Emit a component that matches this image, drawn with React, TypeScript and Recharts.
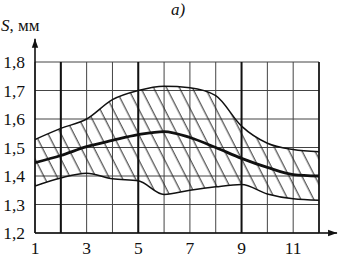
import React from 'react';
import { ComposedChart, Area, Line, XAxis, YAxis, CartesianGrid, ReferenceLine } from 'recharts';

// month index along the x axis
const months = [1, 2, 3, 4, 5, 6, 7, 8, 9, 10, 11, 12];
// S, mm: upper bound, mean, lower bound
const upper = [1.528, 1.567, 1.6, 1.668, 1.7, 1.715, 1.71, 1.682, 1.575, 1.515, 1.493, 1.485];
const mean = [1.447, 1.472, 1.503, 1.525, 1.545, 1.556, 1.535, 1.5, 1.462, 1.43, 1.405, 1.4];
const lower = [1.365, 1.393, 1.41, 1.39, 1.383, 1.335, 1.35, 1.362, 1.37, 1.337, 1.32, 1.315];
const yTicks = [1.2, 1.3, 1.4, 1.5, 1.6, 1.7, 1.8];
const boldLines = [2, 5, 9];

const data = months.map((x, i) => ({
    x,
    upper: upper[i],
    mean: mean[i],
    lower: lower[i],
    range: [lower[i], upper[i]],
}));

const font = '"Liberation Serif", "Times New Roman", serif';

// axis line with arrow head at its end
const Arrow = (p: any) => {
    const { x1, y1, x2, y2 } = p;
    const a = Math.atan2(y2 - y1, x2 - x1);
    const L = 9;
    const W = 3.2;
    const bx = x2 - L * Math.cos(a);
    const by = y2 - L * Math.sin(a);
    const pts = [
        `${x2},${y2}`,
        `${bx - W * Math.sin(a)},${by + W * Math.cos(a)}`,
        `${bx + W * Math.sin(a)},${by - W * Math.cos(a)}`,
    ].join(' ');
    return (
        <g>
            <line x1={x1} y1={y1} x2={x2} y2={y2} stroke="#111" strokeWidth={1.6} />
            <polygon points={pts} fill="#111" />
        </g>
    );
};

export default function App() {
    return (
        <div style={{ position: 'absolute', left: 0, top: 0, width: 338, height: 258, background: '#fff', fontFamily: font, overflow: 'hidden' }}>
            <svg width={0} height={0} style={{ position: 'absolute' }}>
                <defs>
                    <pattern id="hatch" patternUnits="userSpaceOnUse" width={11.5} height={11.5} patternTransform="rotate(-27)">
                        <line x1={5} y1={0} x2={5} y2={11.5} stroke="#222" strokeWidth={1} />
                    </pattern>
                </defs>
            </svg>
            <div style={{ position: 'absolute', left: 171, top: 1, fontSize: 17, lineHeight: '17px', fontStyle: 'italic', color: '#111' }}>a)</div>
            <div style={{ position: 'absolute', left: 1, top: 17, fontSize: 17, lineHeight: '17px', color: '#111' }}>
                <i>S</i>, мм
            </div>
            <ComposedChart
                width={338}
                height={258}
                data={data}
                margin={{ top: 62, right: 19, bottom: 0, left: 0 }}
                style={{ position: 'absolute', left: 0, top: 0 }}
            >
                <CartesianGrid stroke="#444" strokeWidth={1} />
                <XAxis
                    type="number"
                    dataKey="x"
                    domain={[1, 12]}
                    ticks={months}
                    tickFormatter={(v: number) => (v % 2 === 1 ? String(v) : '')}
                    tickLine={false}
                    tickMargin={3}
                    axisLine={{ stroke: '#111', strokeWidth: 1.6 }}
                    height={25}
                    tick={{ fill: '#111', fontSize: 17.5, fontFamily: font }}
                    allowDataOverflow
                />
                <YAxis
                    type="number"
                    domain={[1.2, 1.8]}
                    ticks={yTicks}
                    tickFormatter={(v: number) => v.toFixed(1).replace('.', ',')}
                    tickLine={false}
                    tickMargin={4}
                    axisLine={{ stroke: '#111', strokeWidth: 1.6 }}
                    width={35}
                    tick={{ fill: '#111', fontSize: 17.5, fontFamily: font }}
                    allowDataOverflow
                />
                {boldLines.map((x) => (
                    <ReferenceLine key={x} x={x} stroke="#111" strokeWidth={2} />
                ))}
                <ReferenceLine x={12} stroke="#111" strokeWidth={1.6} />
                <Area
                    type="monotone"
                    dataKey="range"
                    fill="url(#hatch)"
                    fillOpacity={1}
                    stroke="none"
                    isAnimationActive={false}
                />
                <Line type="monotone" dataKey="upper" stroke="#111" strokeWidth={1.5} dot={false} isAnimationActive={false} />
                <Line type="monotone" dataKey="lower" stroke="#111" strokeWidth={1.5} dot={false} isAnimationActive={false} />
                <Line type="monotone" dataKey="mean" stroke="#111" strokeWidth={2.8} dot={false} isAnimationActive={false} />
                <ReferenceLine
                    segment={[{ x: 1, y: 1.8 }, { x: 1, y: 1.882 }]}
                    ifOverflow="visible"
                    shape={Arrow}
                />
                <ReferenceLine
                    segment={[{ x: 12, y: 1.2 }, { x: 12.7, y: 1.2 }]}
                    ifOverflow="visible"
                    shape={Arrow}
                />
            </ComposedChart>
        </div>
    );
}
